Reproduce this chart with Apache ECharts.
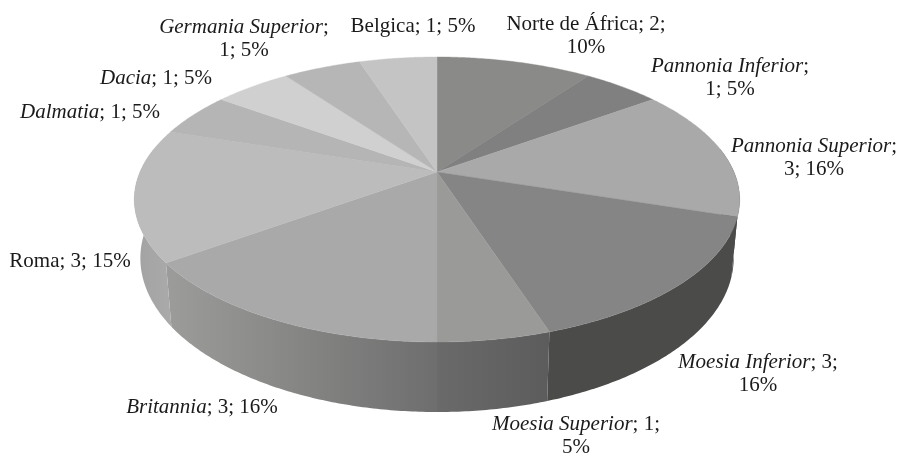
<!DOCTYPE html>
<html><head><meta charset="utf-8">
<style>html,body{margin:0;padding:0;background:#fff}#c{width:898px;height:456px}</style>
<script src="https://cdn.jsdelivr.net/npm/echarts@6/dist/echarts.min.js"></script>
</head><body><div id="c"></div>
<script>
const names = ['Norte de África','Pannonia Inferior','Pannonia Superior','Moesia Inferior','Moesia Superior','Britannia','Roma','Dalmatia','Dacia','Germania Superior','Belgica'];
const values = [2,1,3,3,1,3,3,1,1,1,1];
const percents = [10,5,16,16,5,16,15,5,5,5,5];
const italic = [false,true,true,true,true,true,false,true,true,true,false];
const topColors = ['#8a8a88','#808080','#a9a9a9','#858585','#9a9a98','#a9a9a9','#bcbcbc','#b5b5b5','#d0d0d0','#b6b6b6','#c4c4c4'];
const wallLeft = ['#333333','#333333','#3a3a3a','#4b4b49','#6a6a6a','#9c9c9a','#a2a2a2','#a8a8a8','#a8a8a8','#a8a8a8','#a8a8a8'];
const wallRight = ['#333333','#333333','#3a3a3a','#4b4b49','#5c5c5c','#6e6e6e','#aaaaaa','#a8a8a8','#a8a8a8','#a8a8a8','#a8a8a8'];
const labelX = [586,730,814,758,576,202,70,90,156,244,413];
const labelY = [36,78,158,374,436,407,261,112,78,39,26];
const labelBreak = [ '2; |10%', '|1; 5%', '|3; 16%', '3; |16%', '1; |5%', '', '', '', '', '|1; 5%', '' ];

const geo = {cx:437, cy:172, A:297, B:137.2, p:0.193, depth:56.5, inset:0.98};
const total = values.reduce((a,b)=>a+b,0);
let acc = 0;
const spans = values.map(v => { const s = acc; acc += v; return [s/total*2*Math.PI, acc/total*2*Math.PI]; });

function rim(t, bottom){
  const w = 1 + geo.p*Math.cos(t), k = bottom ? geo.inset : 1;
  return [geo.cx + k*geo.A*Math.sin(t)/w,
          geo.cy - geo.B*Math.cos(t)/w + (bottom ? geo.depth/w : 0)];
}
function arc(a, b, bottom){
  const n = Math.max(2, Math.ceil(Math.abs(b-a)/0.01)), out = [];
  for (let i=0;i<=n;i++) out.push(rim(a+(b-a)*i/n, bottom));
  return out;
}
const wallMin = 80*Math.PI/180, wallMax = 280*Math.PI/180;

function renderWall(params){
  const i = params.dataIndex, a = Math.max(spans[i][0], wallMin), b = Math.min(spans[i][1], wallMax);
  if (b <= a) return null;
  const pts = arc(a,b,false).concat(arc(b,a,true));
  return {type:'polygon', shape:{points:pts}, silent:true, style:{
    fill:new echarts.graphic.LinearGradient(0,0,1,0,[{offset:0,color:wallLeft[i]},{offset:1,color:wallRight[i]}]),
    stroke:null}};
}
function renderTop(params){
  const i = params.dataIndex;
  const pts = [[geo.cx,geo.cy]].concat(arc(spans[i][0],spans[i][1],false));
  return {type:'polygon', shape:{points:pts}, silent:true, style:{fill:topColors[i], stroke:topColors[i], lineWidth:0.4}};
}
function labelText(i){
  const nm = italic[i] ? '{i|'+names[i]+'}' : '{n|'+names[i]+'}';
  const tail = values[i]+'; '+percents[i]+'%';
  const br = labelBreak[i];
  if (!br) return nm+'{n|; '+tail+'}';
  const parts = br.split('|');
  return nm+'{n|;'+(parts[0]?' '+parts[0].trim():'')+'}\n{n|'+parts[1]+'}';
}
const font = {fontFamily:'"Liberation Serif"', fontSize:21, lineHeight:23, fill:'#1a1a1a', color:'#1a1a1a'};
const chart = echarts.init(document.getElementById('c'), null, {renderer:'canvas'});
chart.setOption({
  animation:false,
  backgroundColor:'#fff',
  graphic:names.map((n,i)=>({
    type:'text', x:labelX[i], y:labelY[i], silent:true, z:10,
    style:{text:labelText(i), align:'center', verticalAlign:'middle',
      rich:{i:Object.assign({},font,{fontStyle:'italic'}), n:Object.assign({},font)}}
  })),
  series:[
    {type:'custom', coordinateSystem:'none', renderItem:renderWall, data:values, z:1, silent:true},
    {type:'custom', coordinateSystem:'none', renderItem:renderTop, data:values, z:2, silent:true}
  ]
});
</script></body></html>
